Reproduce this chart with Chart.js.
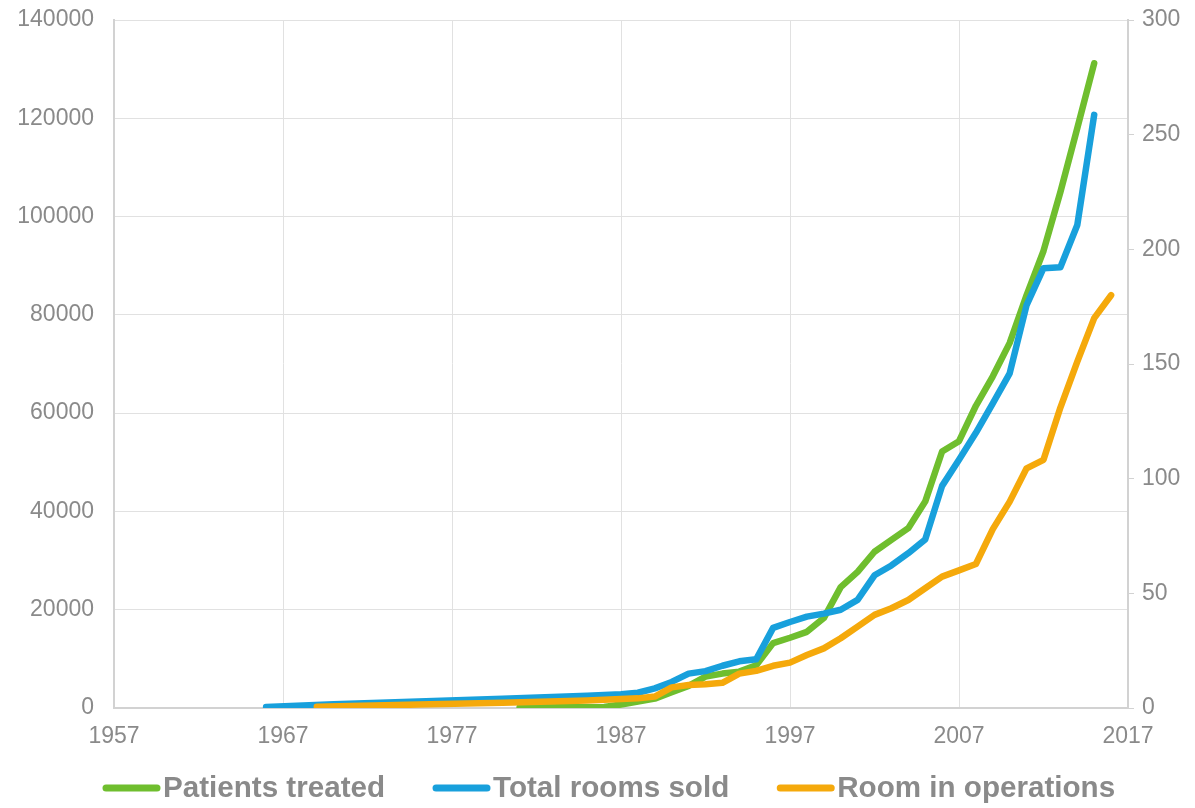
<!DOCTYPE html>
<html>
<head>
<meta charset="utf-8">
<script src="https://cdn.jsdelivr.net/npm/chart.js@4/dist/chart.umd.min.js"></script>
<style>
  html, body { margin: 0; padding: 0; background: #fff; }
  #wrap { width: 1195px; height: 808px; }
</style>
</head>
<body>
<div id="wrap"><canvas id="chart" width="1195" height="808"></canvas></div>
<script>
// series data
const patientYears = [1981, 1986, 1987, 1988, 1989, 1990, 1991, 1992, 1993, 1994, 1995, 1996, 1997, 1998, 1999, 2000, 2001, 2002, 2003, 2004, 2005, 2006, 2007, 2008, 2009, 2010, 2011, 2012, 2013, 2014, 2015];
const patientsTreated = [100, 200, 700, 1300, 1900, 3200, 4500, 6400, 7000, 7400, 8700, 13200, 14300, 15500, 18300, 24600, 27700, 31800, 34200, 36600, 42000, 52200, 54300, 61500, 67500, 74300, 84000, 93000, 105000, 118000, 131200];

const roomYears = [1966, 1970, 1975, 1980, 1985, 1987, 1988, 1989, 1990, 1991, 1992, 1993, 1994, 1995, 1996, 1997, 1998, 1999, 2000, 2001, 2002, 2003, 2004, 2005, 2006, 2007, 2008, 2009, 2010, 2011, 2012, 2013, 2014, 2015];
const totalRoomsSold = [200, 760, 1300, 1900, 2500, 2800, 3100, 4000, 5300, 7000, 7500, 8600, 9500, 9900, 16300, 17500, 18600, 19200, 20000, 22000, 27000, 29000, 31500, 34300, 45200, 50500, 56000, 62000, 68100, 82000, 89500, 89700, 98300, 120700];

const opsYears = [1969, 1975, 1980, 1985, 1988, 1989, 1990, 1991, 1992, 1993, 1994, 1995, 1996, 1997, 1998, 1999, 2000, 2001, 2002, 2003, 2004, 2005, 2006, 2007, 2008, 2009, 2010, 2011, 2012, 2013, 2014, 2015, 2016];
const roomsInOperation = [0.5, 1.5, 2.3, 3.3, 4.2, 5, 9, 10, 10.4, 11, 15, 16.2, 18.4, 19.8, 23.1, 26, 30.4, 35.5, 40.6, 43.5, 47.1, 52.2, 57.3, 60, 62.8, 78, 90, 104.5, 108.2, 131, 151, 170, 180];

const xTicks = [1957, 1967, 1977, 1987, 1997, 2007, 2017];
const leftTicks = [0, 20000, 40000, 60000, 80000, 100000, 120000, 140000];
const rightTicks = [0, 50, 100, 150, 200, 250, 300];

const toPoints = (xs, ys) => xs.map((x, i) => ({ x: x, y: ys[i] }));

const grey = '#8a8a8a';
const gridCol = '#e1e1e1';
const axisCol = '#d2d2d2';
const tickFont = { family: '"Liberation Sans", Arial, sans-serif', size: 23 };

// legend drawn by hand so the gaps match the original
const lineLegend = {
    id: 'lineLegend',
    afterDraw(chart) {
        const c = chart.ctx;
        const y = 788;
        let x = 103;
        c.save();
        c.font = 'bold 29.6px "Liberation Sans", Arial, sans-serif';
        c.textBaseline = 'middle';
        chart.data.datasets.forEach((ds) => {
            c.strokeStyle = ds.borderColor;
            c.lineWidth = 7;
            c.lineCap = 'round';
            c.beginPath();
            c.moveTo(x + 3, y);
            c.lineTo(x + 54, y);
            c.stroke();
            x += 60;
            c.fillStyle = grey;
            c.fillText(ds.label, x, y + 1);
            x += c.measureText(ds.label).width + 48;
        });
        c.restore();
    }
};

const ctx = document.getElementById('chart').getContext('2d');
new Chart(ctx, {
    type: 'line',
    data: {
        datasets: [{
            label: 'Patients treated',
            data: toPoints(patientYears, patientsTreated),
            borderColor: '#6fbe2e',
            borderWidth: 6.5,
            borderCapStyle: 'round',
            borderJoinStyle: 'round',
            pointRadius: 0,
            yAxisID: 'y',
            order: 2
        }, {
            label: 'Total rooms sold',
            data: toPoints(roomYears, totalRoomsSold),
            borderColor: '#18a0dc',
            borderWidth: 6.5,
            borderCapStyle: 'round',
            borderJoinStyle: 'round',
            pointRadius: 0,
            yAxisID: 'y',
            order: 1
        }, {
            label: 'Room in operations',
            data: toPoints(opsYears, roomsInOperation),
            borderColor: '#f5a90b',
            borderWidth: 6.5,
            borderCapStyle: 'round',
            borderJoinStyle: 'round',
            pointRadius: 0,
            yAxisID: 'y1',
            order: 0
        }]
    },
    options: {
        responsive: false,
        animation: false,
        layout: { padding: { top: 0, bottom: 50, left: 0, right: 0 } },
        plugins: {
            tooltip: { enabled: false },
            legend: { display: false }
        },
        scales: {
            x: {
                type: 'linear',
                min: 1957,
                max: 2017,
                afterBuildTicks: (axis) => { axis.ticks = xTicks.map(v => ({ value: v })); },
                ticks: {
                    color: grey,
                    font: tickFont,
                    padding: 15,
                    maxRotation: 0,
                    callback: (v) => String(v)
                },
                grid: { color: gridCol, drawTicks: false },
                border: { color: axisCol, width: 2 },
                afterFit: (axis) => { axis.height = 50; }
            },
            y: {
                position: 'left',
                min: 0,
                max: 140000,
                afterBuildTicks: (axis) => { axis.ticks = leftTicks.map(v => ({ value: v })); },
                ticks: {
                    color: grey,
                    font: tickFont,
                    padding: 20,
                    callback: (v) => String(v)
                },
                grid: { color: gridCol, drawTicks: false },
                border: { color: axisCol, width: 2 },
                afterFit: (axis) => { axis.width = 114; axis.paddingTop = 20; }
            },
            y1: {
                position: 'right',
                min: 0,
                max: 300,
                afterBuildTicks: (axis) => { axis.ticks = rightTicks.map(v => ({ value: v })); },
                ticks: {
                    color: grey,
                    font: tickFont,
                    padding: 8,
                    callback: (v) => String(v)
                },
                grid: { drawOnChartArea: false, color: axisCol, tickLength: 6 },
                border: { color: axisCol, width: 2 },
                afterFit: (axis) => { axis.width = 67; axis.paddingTop = 20; }
            }
        }
    },
    plugins: [lineLegend]
});
</script>
</body>
</html>
